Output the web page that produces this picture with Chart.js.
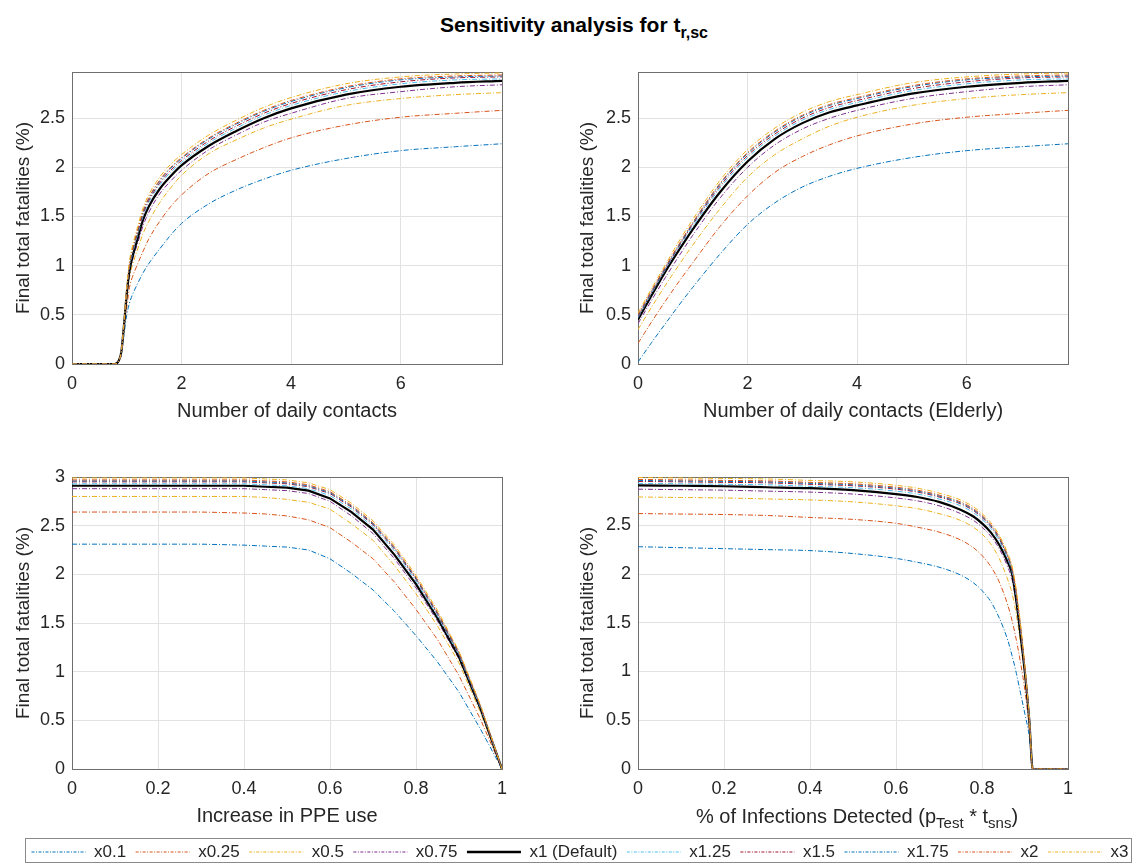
<!DOCTYPE html>
<html>
<head>
<meta charset="utf-8">
<script src="https://cdn.jsdelivr.net/npm/chart.js@4.4.1/dist/chart.umd.min.js"></script>
<style>
  body { margin: 0; background: #fff; }
  #wrap { position: relative; width: 1136px; height: 865px; background: #fff; overflow: hidden;
          font-family: "Liberation Sans", Arial, sans-serif; }
  canvas { position: absolute; }
  #title { position: absolute; left: 6px; width: 1136px; top: 13px; text-align: center;
           font-weight: bold; font-size: 21px; color: #000; white-space: nowrap; line-height: 24px; }
  #title sub { font-size: 16px; position: relative; top: 6px; vertical-align: baseline; line-height: 0; }
  #dTitle { position: absolute; left: 642px; width: 430px; top: 804px; text-align: center;
            font-size: 20px; line-height: 24px; color: #262626; white-space: nowrap; }
  #dTitle sub { font-size: 15px; position: relative; top: 5px; vertical-align: baseline; line-height: 0; }
  #legendBox { position: absolute; left: 25px; top: 838px; width: 1105px; height: 23px;
               border: 1px solid #8a8a8a; background: #fff; }
</style>
</head>
<body>
<div id="wrap">
  <div id="title">Sensitivity analysis for t<sub>r,sc</sub></div>
  <canvas id="pA" width="568" height="432" style="left:0px;top:0px"></canvas>
  <canvas id="pB" width="568" height="432" style="left:568px;top:0px"></canvas>
  <canvas id="pC" width="568" height="400" style="left:0px;top:432px"></canvas>
  <canvas id="pD" width="568" height="400" style="left:568px;top:432px"></canvas>
  <div id="dTitle">% of Infections Detected (p<sub>Test</sub> * t<sub>sns</sub>)</div>
  <div id="legendBox"></div>
  <canvas id="leg" width="1140" height="80" style="left:22px;top:834px"></canvas>
</div>
<script>
// ---------- DATA ----------
const seriesLabels = ['x0.1', 'x0.25', 'x0.5', 'x0.75', 'x1 (Default)', 'x1.25', 'x1.5', 'x1.75', 'x2', 'x3'];

// Panel A: Number of daily contacts
const contactsX = [0, 0.5, 0.78, 0.85, 0.9, 0.95, 1.0, 1.05, 1.1, 1.2, 1.3, 1.4, 1.6, 1.8, 2.0, 2.5, 3.0, 3.5, 4.0, 5.0, 6.0, 7.0, 7.85];
const contactsY = [
  [0,0,0,0.03,0.10,0.30,0.50,0.62,0.70,0.82,0.93,1.02,1.17,1.31,1.43,1.63,1.77,1.88,1.97,2.09,2.17,2.21,2.24],
  [0,0,0,0.03,0.11,0.35,0.58,0.78,0.88,1.02,1.15,1.27,1.45,1.60,1.72,1.94,2.08,2.20,2.30,2.43,2.51,2.55,2.58],
  [0,0,0,0.03,0.11,0.38,0.65,0.88,1.00,1.17,1.33,1.45,1.64,1.79,1.92,2.14,2.28,2.40,2.49,2.63,2.70,2.74,2.76],
  [0,0,0,0.03,0.12,0.39,0.69,0.92,1.05,1.23,1.41,1.54,1.73,1.86,1.97,2.18,2.33,2.46,2.55,2.70,2.77,2.82,2.84],
  [0,0,0,0.03,0.12,0.40,0.72,0.95,1.08,1.28,1.47,1.60,1.78,1.91,2.02,2.22,2.37,2.50,2.60,2.74,2.82,2.86,2.88],
  [0,0,0,0.03,0.12,0.41,0.74,0.98,1.11,1.32,1.51,1.64,1.82,1.95,2.05,2.25,2.40,2.53,2.63,2.77,2.85,2.89,2.90],
  [0,0,0,0.03,0.12,0.41,0.75,1.00,1.13,1.34,1.53,1.66,1.84,1.97,2.07,2.27,2.42,2.55,2.65,2.79,2.87,2.91,2.92],
  [0,0,0,0.03,0.12,0.42,0.76,1.01,1.15,1.36,1.55,1.68,1.86,1.99,2.09,2.29,2.44,2.57,2.67,2.81,2.89,2.92,2.93],
  [0,0,0,0.03,0.12,0.42,0.77,1.02,1.16,1.37,1.56,1.69,1.87,2.00,2.10,2.30,2.45,2.58,2.68,2.82,2.90,2.93,2.94],
  [0,0,0,0.03,0.13,0.43,0.79,1.05,1.19,1.40,1.59,1.72,1.90,2.03,2.13,2.33,2.48,2.61,2.71,2.85,2.92,2.95,2.96]
];

// Panel B: Number of daily contacts (Elderly)
const elderlyX = [0, 0.25, 0.5, 0.75, 1, 1.5, 2, 2.5, 3, 3.5, 4, 5, 6, 7, 7.85];
const elderlyY = [
  [0.02,0.22,0.41,0.60,0.78,1.12,1.42,1.64,1.80,1.91,1.99,2.10,2.17,2.21,2.24],
  [0.21,0.43,0.64,0.84,1.03,1.40,1.71,1.95,2.11,2.23,2.32,2.44,2.51,2.55,2.58],
  [0.35,0.58,0.80,1.01,1.21,1.58,1.90,2.13,2.29,2.42,2.51,2.63,2.70,2.74,2.76],
  [0.41,0.65,0.88,1.10,1.31,1.69,2.00,2.23,2.39,2.50,2.58,2.70,2.77,2.82,2.84],
  [0.45,0.70,0.94,1.16,1.37,1.75,2.06,2.29,2.45,2.56,2.63,2.75,2.82,2.86,2.88],
  [0.47,0.72,0.96,1.19,1.40,1.79,2.10,2.32,2.48,2.59,2.66,2.78,2.85,2.89,2.90],
  [0.48,0.73,0.97,1.20,1.42,1.81,2.12,2.34,2.50,2.61,2.68,2.80,2.87,2.91,2.92],
  [0.49,0.74,0.98,1.21,1.43,1.83,2.14,2.36,2.52,2.63,2.70,2.82,2.89,2.92,2.93],
  [0.50,0.75,0.99,1.22,1.44,1.84,2.15,2.37,2.53,2.64,2.71,2.83,2.90,2.93,2.94],
  [0.52,0.77,1.01,1.25,1.47,1.87,2.18,2.40,2.56,2.67,2.74,2.86,2.92,2.95,2.96]
];

// Panel C: Increase in PPE use
const ppeX = [0, 0.1, 0.2, 0.3, 0.4, 0.45, 0.5, 0.55, 0.6, 0.65, 0.7, 0.75, 0.8, 0.85, 0.9, 0.95, 1.0];
const ppeY = [
  [2.31,2.31,2.31,2.31,2.30,2.29,2.28,2.25,2.16,2.01,1.84,1.62,1.37,1.10,0.79,0.41,0],
  [2.64,2.64,2.64,2.64,2.63,2.62,2.60,2.56,2.48,2.33,2.16,1.92,1.64,1.33,0.96,0.51,0],
  [2.80,2.80,2.80,2.80,2.80,2.79,2.77,2.74,2.67,2.52,2.35,2.09,1.80,1.47,1.09,0.58,0],
  [2.88,2.88,2.88,2.88,2.88,2.87,2.86,2.83,2.75,2.60,2.42,2.16,1.86,1.52,1.13,0.61,0],
  [2.91,2.91,2.91,2.91,2.91,2.90,2.89,2.86,2.78,2.64,2.46,2.20,1.90,1.55,1.15,0.62,0],
  [2.93,2.93,2.93,2.93,2.93,2.92,2.91,2.88,2.81,2.67,2.49,2.24,1.93,1.57,1.17,0.63,0],
  [2.95,2.95,2.95,2.95,2.95,2.94,2.93,2.90,2.83,2.69,2.51,2.26,1.95,1.59,1.18,0.64,0],
  [2.96,2.96,2.96,2.96,2.96,2.95,2.94,2.91,2.84,2.70,2.52,2.27,1.96,1.60,1.19,0.64,0],
  [2.97,2.97,2.97,2.97,2.97,2.96,2.95,2.92,2.85,2.71,2.53,2.28,1.97,1.61,1.20,0.65,0],
  [2.99,2.99,2.99,2.99,2.99,2.98,2.97,2.94,2.87,2.73,2.55,2.30,1.99,1.63,1.21,0.66,0]
];

// Panel D: % of Infections Detected
const detectedX = [0, 0.1, 0.2, 0.3, 0.4, 0.5, 0.6, 0.65, 0.7, 0.75, 0.78, 0.8, 0.82, 0.84, 0.86, 0.87, 0.88, 0.89, 0.9, 0.91, 0.918, 0.95, 1.0];
const detectedY = [
  [2.28,2.27,2.26,2.25,2.24,2.21,2.16,2.12,2.07,1.99,1.91,1.83,1.72,1.55,1.32,1.16,0.98,0.77,0.56,0.33,0,0,0],
  [2.62,2.615,2.61,2.60,2.58,2.56,2.52,2.48,2.43,2.35,2.27,2.19,2.08,1.92,1.68,1.52,1.32,1.08,0.80,0.42,0,0,0],
  [2.79,2.785,2.78,2.77,2.76,2.74,2.70,2.67,2.62,2.55,2.48,2.41,2.31,2.16,1.94,1.80,1.58,1.28,0.92,0.46,0,0,0],
  [2.87,2.865,2.86,2.85,2.84,2.82,2.78,2.75,2.70,2.62,2.55,2.48,2.39,2.26,2.07,1.94,1.69,1.34,0.97,0.50,0,0,0],
  [2.91,2.905,2.90,2.89,2.88,2.86,2.82,2.79,2.74,2.66,2.59,2.52,2.43,2.30,2.12,2.00,1.72,1.36,0.98,0.50,0,0,0],
  [2.93,2.925,2.92,2.915,2.90,2.885,2.85,2.82,2.77,2.70,2.63,2.56,2.47,2.34,2.15,2.02,1.76,1.40,1.00,0.51,0,0,0],
  [2.95,2.945,2.94,2.935,2.92,2.905,2.87,2.84,2.79,2.72,2.65,2.58,2.49,2.36,2.17,2.04,1.78,1.42,1.01,0.51,0,0,0],
  [2.96,2.955,2.95,2.945,2.93,2.915,2.88,2.85,2.80,2.73,2.66,2.59,2.50,2.37,2.18,2.05,1.80,1.44,1.02,0.52,0,0,0],
  [2.97,2.965,2.96,2.955,2.94,2.925,2.89,2.86,2.81,2.74,2.67,2.60,2.51,2.38,2.19,2.06,1.81,1.45,1.03,0.52,0,0,0],
  [2.99,2.985,2.98,2.975,2.96,2.945,2.91,2.88,2.83,2.76,2.69,2.62,2.53,2.40,2.21,2.08,1.83,1.47,1.05,0.53,0,0,0]
];

const xTitles = ['Number of daily contacts', 'Number of daily contacts (Elderly)', 'Increase in PPE use', ''];
const yTitle = 'Final total fatalities (%)';

// ---------- STYLE ----------
const seriesColors = ['#0072BD', '#D95319', '#EDB120', '#7E2F8E', '#000000', '#4DBEEE', '#A2142F', '#0072BD', '#D95319', '#EDB120'];
const FONT = '"Liberation Sans", Arial, sans-serif';
const TXT = '#262626';
const GRID = '#e2e2e2';
const AXIS = '#6e6e6e';
const fmt = v => String(Number(Number(v).toFixed(3)));

function makeDatasets(xs, ys) {
  return ys.map((vals, i) => ({
    label: seriesLabels[i],
    data: xs.map((x, j) => ({ x: x, y: vals[j] })),
    borderColor: seriesColors[i],
    backgroundColor: seriesColors[i],
    borderWidth: i === 4 ? 2.2 : 1,
    borderDash: i === 4 ? [] : [5, 2, 1, 2],
    pointRadius: 0,
    fill: false,
    order: 10 - i
  }));
}

function makePanel(id, xs, ys, cfg) {
  new Chart(document.getElementById(id), {
    type: 'line',
    data: { datasets: makeDatasets(xs, ys) },
    options: {
      responsive: false, animation: false, devicePixelRatio: 1,
      layout: { padding: { top: cfg.padTop, right: cfg.padRight, left: 0, bottom: 0 } },
      plugins: { legend: { display: false }, tooltip: { enabled: false } },
      elements: { line: { tension: 0, cubicInterpolationMode: cfg.mono ? 'monotone' : 'default' } },
      scales: {
        x: {
          type: 'linear', position: 'bottom', min: 0, max: cfg.xMax,
          grid: { color: GRID, drawTicks: false, lineWidth: 1 },
          border: { color: AXIS, width: 1 },
          ticks: { stepSize: cfg.xStep, includeBounds: false, padding: 9, color: TXT,
                   font: { family: FONT, size: 18 }, maxRotation: 0, autoSkip: false, callback: fmt },
          title: { display: cfg.xTitle !== '', text: cfg.xTitle, color: TXT, font: { family: FONT, size: 20 },
                   padding: { top: 0, bottom: cfg.xTitlePad } },
          afterFit: s => { s.height = cfg.xAxisH; }
        },
        y: {
          type: 'linear', position: 'left', min: 0, max: cfg.yMax,
          grid: { color: GRID, drawTicks: false, lineWidth: 1 },
          border: { color: AXIS, width: 1 },
          ticks: { stepSize: 0.5, includeBounds: false, padding: 7, color: TXT,
                   font: { family: FONT, size: 18 }, callback: fmt },
          title: { display: true, text: yTitle, color: TXT, font: { family: FONT, size: 19 },
                   padding: { top: cfg.yTitlePad, bottom: 0 } },
          afterFit: s => { s.width = cfg.yAxisW; }
        },
        xTop: {
          type: 'linear', position: 'top', min: 0, max: cfg.xMax,
          grid: { display: false, drawTicks: false }, ticks: { display: false },
          border: { color: AXIS, width: 1 },
          afterFit: s => { s.height = 0; }
        },
        yRight: {
          type: 'linear', position: 'right', min: 0, max: cfg.yMax,
          grid: { display: false, drawTicks: false }, ticks: { display: false },
          border: { color: AXIS, width: 1 },
          afterFit: s => { s.width = 0; }
        }
      }
    }
  });
}

makePanel('pA', contactsX, contactsY, { padTop: 72, padRight: 66, xAxisH: 68, yAxisW: 72, xMax: 7.85, xStep: 2,
  yMax: 2.97, xTitle: xTitles[0], xTitlePad: 9, yTitlePad: 12.6, mono: true });
makePanel('pB', elderlyX, elderlyY, { padTop: 72, padRight: 68, xAxisH: 68, yAxisW: 70, xMax: 7.85, xStep: 2,
  yMax: 2.97, xTitle: xTitles[1], xTitlePad: 9, yTitlePad: 8.6, mono: true });
makePanel('pC', ppeX, ppeY, { padTop: 45, padRight: 66, xAxisH: 63, yAxisW: 72, xMax: 1, xStep: 0.2,
  yMax: 3, xTitle: xTitles[2], xTitlePad: 4, yTitlePad: 12.6, mono: false });
makePanel('pD', detectedX, detectedY, { padTop: 45, padRight: 68, xAxisH: 63, yAxisW: 70, xMax: 1, xStep: 0.2,
  yMax: 2.995, xTitle: xTitles[3], xTitlePad: 4, yTitlePad: 8.6, mono: true });

// ---------- LEGEND ----------
new Chart(document.getElementById('leg'), {
  type: 'line',
  data: { datasets: seriesLabels.map((l, i) => ({
    label: l, data: [], borderColor: seriesColors[i], backgroundColor: seriesColors[i],
    borderWidth: i === 4 ? 2.5 : 1, borderDash: i === 4 ? [] : [3, 1.5, 1, 1.5]
  })) },
  options: {
    responsive: false, animation: false, devicePixelRatio: 1,
    layout: { padding: 0 },
    scales: { x: { display: false }, y: { display: false } },
    plugins: {
      tooltip: { enabled: false },
      legend: {
        display: true, position: 'top', align: 'start',
        labels: { usePointStyle: true, pointStyle: 'line', pointStyleWidth: 54, boxWidth: 54, padding: 9.5,
                  color: TXT, font: { family: FONT, size: 17 },
                  sort: (a, b) => a.datasetIndex - b.datasetIndex,
                  generateLabels: chart => Chart.defaults.plugins.legend.labels.generateLabels(chart).map(item => {
                    const ds = chart.data.datasets[item.datasetIndex];
                    item.lineDash = ds.borderDash;
                    item.lineWidth = ds.borderWidth;
                    item.strokeStyle = ds.borderColor;
                    item.pointStyle = 'line';
                    return item;
                  }) }
      }
    }
  }
});
</script>
</body>
</html>
